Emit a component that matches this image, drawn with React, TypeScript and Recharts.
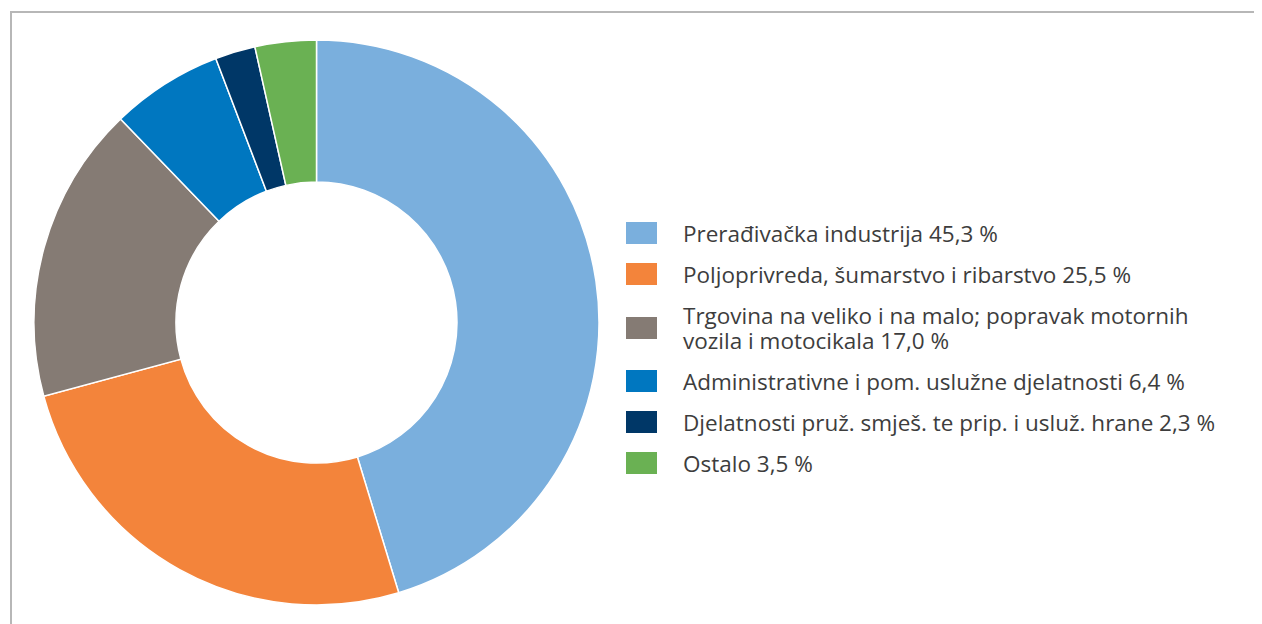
import { Legend, Pie, PieChart } from "recharts";

const sectors = [
	"Prerađivačka industrija 45,3 %",
	"Poljoprivreda, šumarstvo i ribarstvo 25,5 %",
	"Trgovina na veliko i na malo; popravak motornih\nvozila i motocikala 17,0 %",
	"Administrativne i pom. uslužne djelatnosti 6,4 %",
	"Djelatnosti pruž. smješ. te prip. i usluž. hrane 2,3 %",
	"Ostalo 3,5 %",
];
const shares = [45.3, 25.5, 17.0, 6.4, 2.3, 3.5];
const colors = ["#7aafdd", "#f3843b", "#857b74", "#0077c0", "#003767", "#6ab153"];

const data = sectors.map((name, i) => ({
	name,
	value: shares[i],
	fill: colors[i],
}));

const FONT = "'Open Sans', Lato, sans-serif";

function LegendList() {
	return (
		<div style={{ display: "flex", flexDirection: "column", gap: 16 }}>
			{data.map((d) => (
				<div key={d.name} style={{ display: "flex", alignItems: "center" }}>
					<span
						style={{
							width: 31,
							height: 22,
							background: d.fill,
							flexShrink: 0,
							marginRight: 26,
						}}
					/>
					<span
						style={{
							whiteSpace: "pre-line",
							fontSize: 22.5,
							lineHeight: "25px",
							color: "#3d3d3d",
						}}
					>
						{d.name}
					</span>
				</div>
			))}
		</div>
	);
}

export default function App() {
	return (
		<div style={{ position: "relative", width: 1254, height: 616, fontFamily: FONT }}>
			<div
				style={{
					position: "absolute",
					left: 2,
					top: 3,
					right: 0,
					bottom: 0,
					borderLeft: "2px solid #b7b7b7",
					borderTop: "2px solid #b7b7b7",
				}}
			/>
			<PieChart
				width={1254}
				height={616}
				margin={{ top: 0, right: 0, bottom: 0, left: 0 }}
				style={{ position: "absolute", left: 0, top: 0 }}
			>
				<Pie
					data={data}
					dataKey='value'
					nameKey='name'
					cx={308.5}
					cy={314.5}
					innerRadius={140.5}
					outerRadius={282.5}
					startAngle={90}
					endAngle={-270}
					stroke='#ffffff'
					strokeWidth={1.5}
					isAnimationActive={false}
				/>
				<Legend
					content={() => <LegendList />}
					wrapperStyle={{ left: 618, top: 212.5, width: 630, bottom: "auto" }}
				/>
			</PieChart>
		</div>
	);
}
